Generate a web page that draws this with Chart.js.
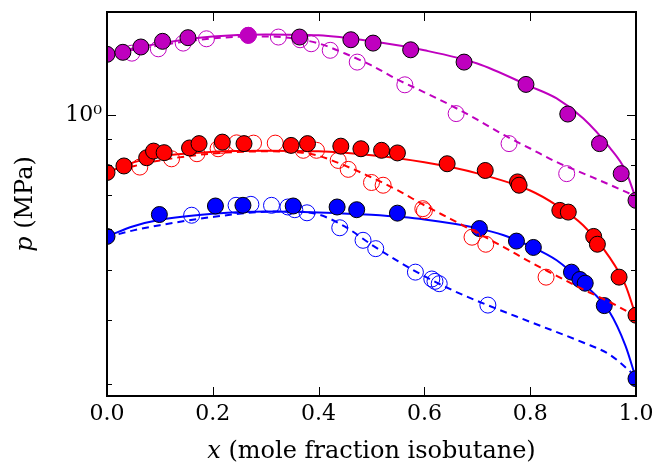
<!DOCTYPE html>
<html>
<head>
<meta charset="utf-8">
<script src="https://cdn.jsdelivr.net/npm/chart.js@4/dist/chart.umd.min.js"></script>
<style>
  html, body { margin: 0; padding: 0; background: #fff; }
  #wrap { width: 657px; height: 472px; }
</style>
</head>
<body>
<div id="wrap"><canvas id="vle" width="657" height="472"></canvas></div>
<script>
// axis ticks
const xTicks = [0, 0.2, 0.4, 0.6, 0.8, 1.0];
const yMajorTicks = [1];
const yMinorTicks = [0.3, 0.4, 0.5, 0.6, 0.7, 0.8, 0.9];

// lowest temperature (blue)
const blueFilledX = [0.0, 0.099, 0.205, 0.257, 0.352, 0.435, 0.472, 0.549, 0.704, 0.774, 0.806, 0.878, 0.894, 0.904, 0.940, 1.0];
const blueFilledP = [0.581, 0.641, 0.666, 0.668, 0.666, 0.663, 0.655, 0.645, 0.602, 0.569, 0.553, 0.495, 0.479, 0.471, 0.426, 0.307];
const blueOpenX = [0.160, 0.244, 0.272, 0.311, 0.342, 0.355, 0.378, 0.440, 0.484, 0.508, 0.583, 0.614, 0.620, 0.628, 0.720];
const blueOpenP = [0.639, 0.668, 0.671, 0.668, 0.663, 0.655, 0.646, 0.604, 0.571, 0.550, 0.495, 0.480, 0.475, 0.470, 0.427];
const blueBubbleX = [0, 0.05, 0.1, 0.2, 0.3, 0.4, 0.5, 0.6, 0.7, 0.75, 0.8, 0.85, 0.9, 0.95, 0.98, 1.0];
const blueBubbleP = [0.581, 0.608, 0.626, 0.643, 0.650, 0.647, 0.640, 0.627, 0.603, 0.584, 0.556, 0.522, 0.471, 0.414, 0.356, 0.307];
const blueDewX = [0, 0.05, 0.1, 0.2, 0.3, 0.35, 0.4, 0.45, 0.5, 0.55, 0.6, 0.65, 0.7, 0.8, 0.9, 0.95, 1.0];
const blueDewP = [0.579, 0.597, 0.611, 0.634, 0.649, 0.650, 0.641, 0.607, 0.560, 0.520, 0.486, 0.458, 0.435, 0.396, 0.361, 0.342, 0.310];

// middle temperature (red)
const redFilledX = [0.0, 0.032, 0.075, 0.088, 0.108, 0.156, 0.174, 0.218, 0.259, 0.348, 0.379, 0.442, 0.480, 0.519, 0.549, 0.643, 0.715, 0.776, 0.779, 0.856, 0.872, 0.920, 0.927, 0.968, 1.0];
const redFilledP = [0.774, 0.797, 0.827, 0.852, 0.846, 0.864, 0.881, 0.887, 0.881, 0.874, 0.881, 0.871, 0.861, 0.855, 0.845, 0.805, 0.781, 0.742, 0.731, 0.653, 0.648, 0.581, 0.561, 0.484, 0.408];
const redOpenX = [0.062, 0.122, 0.170, 0.210, 0.217, 0.245, 0.277, 0.318, 0.371, 0.396, 0.437, 0.456, 0.500, 0.522, 0.597, 0.600, 0.690, 0.716, 0.830];
const redOpenP = [0.793, 0.823, 0.842, 0.861, 0.874, 0.884, 0.883, 0.883, 0.855, 0.855, 0.817, 0.785, 0.740, 0.731, 0.658, 0.652, 0.579, 0.561, 0.484];
const redBubbleX = [0, 0.05, 0.1, 0.2, 0.3, 0.4, 0.5, 0.6, 0.7, 0.8, 0.85, 0.9, 0.95, 0.98, 1.0];
const redBubbleP = [0.774, 0.810, 0.832, 0.849, 0.853, 0.851, 0.836, 0.810, 0.771, 0.714, 0.668, 0.611, 0.529, 0.467, 0.406];
const redDewX = [0, 0.05, 0.1, 0.2, 0.3, 0.365, 0.4, 0.45, 0.5, 0.55, 0.6, 0.65, 0.7, 0.75, 0.8, 0.85, 0.9, 0.95, 1.0];
const redDewP = [0.771, 0.796, 0.817, 0.843, 0.851, 0.847, 0.834, 0.798, 0.757, 0.714, 0.668, 0.628, 0.590, 0.554, 0.518, 0.487, 0.458, 0.433, 0.406];

// highest temperature (magenta)
const magFilledX = [0.0, 0.030, 0.064, 0.105, 0.153, 0.267, 0.364, 0.461, 0.503, 0.574, 0.675, 0.792, 0.871, 0.931, 0.972, 1.0];
const magFilledP = [1.315, 1.327, 1.359, 1.394, 1.417, 1.432, 1.421, 1.404, 1.383, 1.342, 1.270, 1.149, 1.006, 0.881, 0.770, 0.683];
const magOpenX = [0.047, 0.097, 0.144, 0.188, 0.267, 0.324, 0.365, 0.386, 0.422, 0.473, 0.563, 0.660, 0.760, 0.869];
const magOpenP = [1.322, 1.348, 1.383, 1.410, 1.432, 1.421, 1.404, 1.379, 1.339, 1.270, 1.147, 1.008, 0.881, 0.770];
const magBubbleX = [0, 0.1, 0.2, 0.3, 0.4, 0.5, 0.6, 0.7, 0.8, 0.85, 0.9, 0.95, 0.98, 1.0];
const magBubbleP = [1.320, 1.381, 1.425, 1.438, 1.432, 1.394, 1.339, 1.262, 1.139, 1.079, 0.987, 0.866, 0.781, 0.688];
const magDewX = [0, 0.1, 0.2, 0.3, 0.35, 0.4, 0.45, 0.5, 0.55, 0.6, 0.65, 0.7, 0.75, 0.8, 0.85, 0.9, 0.95, 1.0];
const magDewP = [1.315, 1.369, 1.413, 1.425, 1.413, 1.381, 1.320, 1.251, 1.173, 1.109, 1.046, 0.981, 0.916, 0.862, 0.811, 0.771, 0.733, 0.695];

const BLUE = '#0000ff';
const RED = '#ff0000';
const MAG = '#bf00bf';
const SERIF = '"DejaVu Serif", "Liberation Serif", serif';

function pts(xs, ys) {
  return xs.map((x, i) => ({ x: x, y: ys[i] }));
}

function curve(xs, ys, color, dashed) {
  return {
    data: pts(xs, ys),
    showLine: true,
    borderColor: color,
    borderWidth: 2,
    borderDash: dashed ? [7, 5] : [],
    pointRadius: 0,
    cubicInterpolationMode: 'monotone',
    clip: 0
  };
}

function filled(xs, ys, color, edge) {
  return {
    data: pts(xs, ys),
    showLine: false,
    pointRadius: 8,
    pointBackgroundColor: color,
    pointBorderColor: edge || '#000',
    pointBorderWidth: 1,
    clip: 0
  };
}

function open(xs, ys, color) {
  return {
    data: pts(xs, ys),
    showLine: false,
    pointRadius: 8,
    pointBackgroundColor: 'rgba(0,0,0,0)',
    pointBorderColor: color,
    pointBorderWidth: 1,
    clip: 0
  };
}

// bottom to top
const layers = [
  curve(blueBubbleX, blueBubbleP, BLUE, false),
  curve(blueDewX, blueDewP, BLUE, true),
  open(blueOpenX, blueOpenP, BLUE),
  filled(blueFilledX, blueFilledP, BLUE),
  curve(redBubbleX, redBubbleP, RED, false),
  curve(redDewX, redDewP, RED, true),
  open(redOpenX, redOpenP, RED),
  filled(redFilledX, redFilledP, RED),
  curve(magBubbleX, magBubbleP, MAG, false),
  curve(magDewX, magDewP, MAG, true),
  open(magOpenX, magOpenP, MAG),
  filled(magFilledX, magFilledP, MAG, c => c.dataIndex === 5 ? MAG : '#000')
];
layers.forEach((d, i) => { d.order = layers.length - i; });

const frameAndLabels = {
  id: 'frameAndLabels',
  afterDatasetsDraw(chart) {
    const { ctx, chartArea: a, scales: { x, y } } = chart;
    ctx.save();
    ctx.strokeStyle = '#000';
    ctx.lineWidth = 1;
    ctx.beginPath();
    xTicks.forEach(v => {
      const px = Math.round(x.getPixelForValue(v)) + 0.5;
      ctx.moveTo(px, a.bottom); ctx.lineTo(px, a.bottom - 9);
      ctx.moveTo(px, a.top); ctx.lineTo(px, a.top + 9);
    });
    yMajorTicks.forEach(v => {
      const py = Math.round(y.getPixelForValue(v)) + 0.5;
      ctx.moveTo(a.left, py); ctx.lineTo(a.left + 9, py);
      ctx.moveTo(a.right, py); ctx.lineTo(a.right - 9, py);
    });
    yMinorTicks.forEach(v => {
      const py = Math.round(y.getPixelForValue(v)) + 0.5;
      ctx.moveTo(a.left, py); ctx.lineTo(a.left + 5, py);
      ctx.moveTo(a.right, py); ctx.lineTo(a.right - 5, py);
    });
    ctx.stroke();
    ctx.lineWidth = 2;
    ctx.strokeRect(a.left, a.top, a.right - a.left, a.bottom - a.top);
    ctx.restore();
  },
  afterDraw(chart) {
    const { ctx, chartArea: a } = chart;
    ctx.save();
    ctx.fillStyle = '#000';
    ctx.textBaseline = 'alphabetic';
    // x label
    const xv = 'x';
    const xr = ' (mole fraction isobutane)';
    ctx.font = 'italic 24px ' + SERIF;
    const w1 = ctx.measureText(xv).width;
    ctx.font = '24px ' + SERIF;
    const w2 = ctx.measureText(xr).width;
    let sx = (a.left + a.right) / 2 - (w1 + w2) / 2;
    ctx.textAlign = 'left';
    ctx.font = 'italic 24px ' + SERIF;
    ctx.fillText(xv, sx, 458);
    ctx.font = '24px ' + SERIF;
    ctx.fillText(xr, sx + w1, 458);
    // y label
    const yv = 'p';
    const yr = ' (MPa)';
    ctx.font = 'italic 24px ' + SERIF;
    const v1 = ctx.measureText(yv).width;
    ctx.font = '24px ' + SERIF;
    const v2 = ctx.measureText(yr).width;
    ctx.translate(32, (a.top + a.bottom) / 2);
    ctx.rotate(-Math.PI / 2);
    const sy = -(v1 + v2) / 2;
    ctx.font = 'italic 24px ' + SERIF;
    ctx.fillText(yv, sy, 0);
    ctx.font = '24px ' + SERIF;
    ctx.fillText(yr, sy + v1, 0);
    ctx.restore();
  }
};

function noPad(s) {
  s.paddingTop = 0;
  s.paddingBottom = 0;
  s.paddingLeft = 0;
  s.paddingRight = 0;
}

new Chart(document.getElementById('vle'), {
  type: 'scatter',
  data: { datasets: layers },
  options: {
    responsive: false,
    devicePixelRatio: 1,
    animation: false,
    layout: { padding: { left: 0, top: 12, right: 21, bottom: 0 } },
    plugins: { legend: { display: false }, tooltip: { enabled: false } },
    scales: {
      x: {
        type: 'linear',
        min: 0,
        max: 1,
        afterBuildTicks: s => { s.ticks = xTicks.map(v => ({ value: v })); },
        afterFit: s => { s.height = 76; noPad(s); },
        grid: { display: false, drawTicks: false },
        border: { display: false },
        ticks: {
          padding: 5,
          color: '#000',
          font: { family: SERIF, size: 22 },
          maxRotation: 0,
          autoSkip: false,
          callback: v => Number(v).toFixed(1)
        }
      },
      y: {
        type: 'logarithmic',
        min: 0.284,
        max: 1.59,
        afterBuildTicks: s => { s.ticks = yMajorTicks.map(v => ({ value: v, major: true })); },
        afterFit: s => { s.width = 107; noPad(s); },
        grid: { display: false, drawTicks: false },
        border: { display: false },
        ticks: {
          padding: 5,
          color: '#000',
          font: { family: SERIF, size: 22 },
          autoSkip: false,
          callback: v => '10\u2070'
        }
      }
    }
  },
  plugins: [frameAndLabels]
});
</script>
</body>
</html>
